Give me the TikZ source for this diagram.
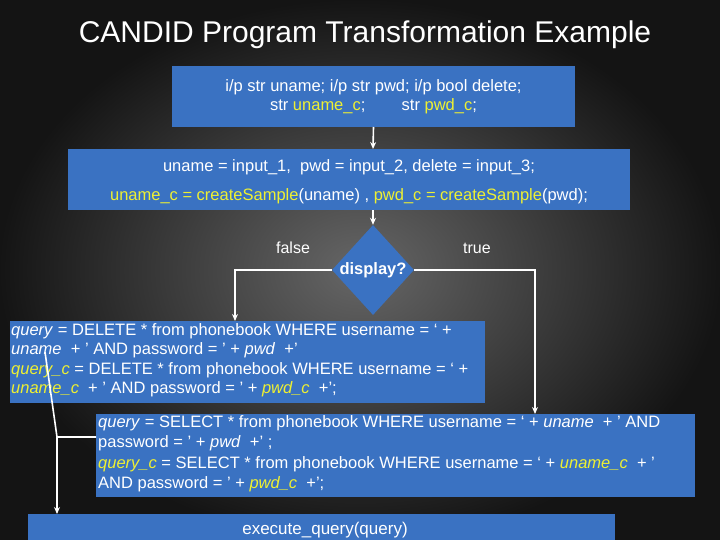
\documentclass[tikz,border=0pt]{standalone}
\usepackage{fontspec}
\setmainfont{Liberation Sans}
\usetikzlibrary{shapes.geometric,arrows.meta}
\definecolor{boxblue}{HTML}{3A72C2}
\definecolor{hl}{HTML}{EEF032}
\newcommand{\yl}[1]{\textcolor{hl}{#1}}
\tikzset{
  bx/.style={fill=none,draw=none,text=white,font=\fontsize{16.5}{19.5}\selectfont,inner sep=2pt},
  conn/.style={draw=white,line width=1.6pt,-{Stealth[length=7pt,width=6pt]}},
  plain/.style={draw=white,line width=1.6pt},
  lbl/.style={text=white,font=\fontsize{16}{18}\selectfont}
}
\begin{document}
\begin{tikzpicture}[x=1pt,y=-1pt]
\useasboundingbox (0,0) rectangle (720,540);
\shade[inner color=black!60,outer color=black!92] (0,0) rectangle (720,540);
\node[text=white,font=\fontsize{30}{34}\selectfont] (title) at (365,35) {CANDID Program Transformation Example};
\fill[boxblue] (172,66) rectangle (575,127);
\node[bx,align=center,font=\fontsize{16.5}{19}\selectfont] (b1) at (373.5,96.5) {i/p str uname; i/p str pwd; i/p bool delete;\\str \yl{uname\_c};\hspace{2.2em}str \yl{pwd\_c};};
\coordinate (b1s) at (373.5,127);
\fill[boxblue] (68,149) rectangle (630,210);
\node[bx,align=center,font=\fontsize{16.5}{29}\selectfont] (b2) at (349,182) {uname = input\_1,\ \ pwd = input\_2, delete = input\_3;\\\yl{uname\_c = createSample}(uname) , \yl{pwd\_c = createSample}(pwd);};
\coordinate (b2n) at (373,149);
\coordinate (b2s) at (373,210);
\node[diamond,fill=boxblue,minimum width=82pt,minimum height=90pt,inner sep=0pt] (d) at (373,270) {};
\node[text=white,font=\bfseries\fontsize{16.5}{18}\selectfont] (dl) at (373,270) {display?};
\draw[conn] (b1s) -- (b2n);
\draw[conn] (b2s) -- (d.north);
\node[lbl] (fl) at (293,248) {false};
\node[lbl] (tl) at (477,248) {true};
\fill[boxblue] (10,321) rectangle (485,403);
\node[bx,align=left,anchor=north west] (b3) at (9,321) {\textit{query} = DELETE * from phonebook WHERE username = ‘ +\\\textit{uname} \ + ’ AND password = ’ + \textit{pwd}\ \ +’\\\yl{\textit{query\_c}} = DELETE * from phonebook WHERE username = ‘ +\\\yl{\textit{uname\_c}} \ + ’ AND password = ’ + \yl{\textit{pwd\_c}}\ \ +’;};
\coordinate (b3n) at (235,321);
\fill[boxblue] (96,414) rectangle (695,497);
\node[bx,align=left,anchor=north west,font=\fontsize{16.5}{20.5}\selectfont] (b4) at (96,413) {\textit{query} = SELECT * from phonebook WHERE username = ‘ + \textit{uname} \ + ’ AND\\password = ’ + \textit{pwd}\ \ +’ ;\\\yl{\textit{query\_c}} = SELECT * from phonebook WHERE username = ‘ + \yl{\textit{uname\_c}} \ + ’\\AND password = ’ + \yl{\textit{pwd\_c}}\ \ +’;};
\coordinate (b4n) at (535,414);
\coordinate (b4w) at (96,437);
\fill[boxblue] (28,514) rectangle (615,540);
\node[text=white,font=\fontsize{17}{19}\selectfont] (b5) at (325,530) {execute\_query(query)};
\coordinate (b5n) at (57,514);
\draw[conn] (d.west) -| (b3n);
\draw[conn] (d.east) -| (b4n);
\coordinate (s) at (45,352);
\coordinate (j) at (57,437);
\draw[plain] (s) -- (j) -- (b4w);
\draw[conn] (j) -- (b5n);
\end{tikzpicture}
\end{document}
